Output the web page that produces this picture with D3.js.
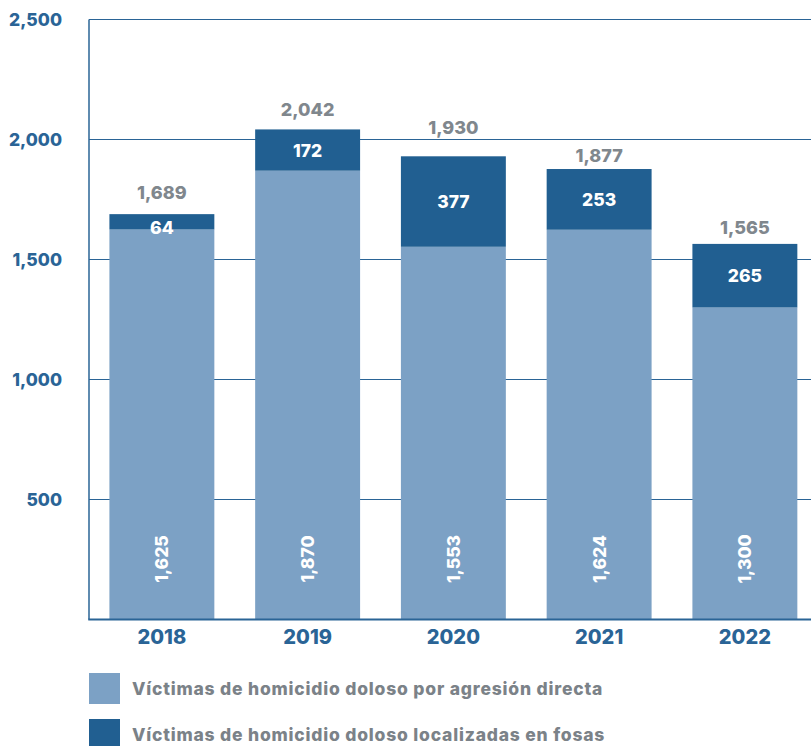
<!DOCTYPE html>
<html>
<head>
<meta charset="utf-8">
<script src="https://cdn.jsdelivr.net/npm/d3@7"></script>
<style>
  html, body { margin: 0; padding: 0; background: #ffffff; }
  svg { display: block; }
  text { font-family: Inter, "Open Sans", sans-serif; font-weight: 800; }
</style>
</head>
<body>
<svg id="chart" width="811" height="746"></svg>
<script>
// Víctimas de homicidio doloso, 2018–2022
const years = ["2018", "2019", "2020", "2021", "2022"];
const directa = [1625, 1870, 1553, 1624, 1300];   // por agresión directa
const fosas = [64, 172, 377, 253, 265];            // localizadas en fosas
const yTicks = [500, 1000, 1500, 2000, 2500];
const seriesNames = [
  "Víctimas de homicidio doloso por agresión directa",
  "Víctimas de homicidio doloso localizadas en fosas"
];

const colors = { directa: "#7ca1c5", fosas: "#215f91", axis: "#2a6496", total: "#80878d", legend: "#7b8288" };
// gap (px) between each bar top and its total label
const totalGap = [15, 13, 22, 7, 10];

const svg = d3.select("#chart");
const fmt = d3.format(",");

const rows = years.map((yr, i) => ({ year: yr, directa: directa[i], fosas: fosas[i] }));
const stacked = d3.stack().keys(["directa", "fosas"])(rows);

const x = d3.scaleBand().domain(years).range([89, 817.75]).paddingInner(0.28).paddingOuter(0.14);
const y = d3.scaleLinear().domain([0, 2500]).range([619.5, 19.5]);

// gridlines
svg.append("g").selectAll("line").data(yTicks).join("line")
  .attr("x1", 89).attr("x2", 811)
  .attr("y1", d => y(d)).attr("y2", d => y(d))
  .attr("stroke", colors.axis).attr("stroke-width", 1.2);

// y tick labels
svg.append("g").selectAll("text").data(yTicks).join("text")
  .attr("x", 62).attr("y", d => y(d) + 6.5)
  .attr("text-anchor", "end")
  .attr("font-size", 17.5).attr("fill", colors.axis)
  .text(d => fmt(d));

// stacked bars
svg.append("g").selectAll("g").data(stacked).join("g")
  .attr("fill", s => colors[s.key])
  .selectAll("rect").data(s => s).join("rect")
  .attr("x", d => x(d.data.year))
  .attr("width", x.bandwidth())
  .attr("y", d => y(d[1]))
  .attr("height", d => y(d[0]) - y(d[1]));

// axes lines
svg.append("line").attr("x1", 89).attr("x2", 89).attr("y1", y(2500)).attr("y2", y(0))
  .attr("stroke", colors.axis).attr("stroke-width", 1.5);
svg.append("line").attr("x1", 88.25).attr("x2", 811).attr("y1", y(0)).attr("y2", y(0))
  .attr("stroke", colors.axis).attr("stroke-width", 2);

// year labels
svg.append("g").selectAll("text").data(years).join("text")
  .attr("x", d => x(d) + x.bandwidth() / 2).attr("y", 644)
  .attr("text-anchor", "middle").attr("font-size", 20).attr("fill", colors.axis)
  .text(d => d);

// rotated labels inside the lower segment
svg.append("g").selectAll("text").data(stacked[0]).join("text")
  .attr("transform", d => `translate(${x(d.data.year) + x.bandwidth() / 2 + 6.5},559) rotate(-90)`)
  .attr("text-anchor", "middle").attr("font-size", 17.5).attr("fill", "#ffffff")
  .text(d => fmt(d[1] - d[0]));

// labels inside the upper segment
svg.append("g").selectAll("text").data(stacked[1]).join("text")
  .attr("x", d => x(d.data.year) + x.bandwidth() / 2)
  .attr("y", d => Math.max((y(d[0]) + y(d[1])) / 2, y(d[1]) + 13) + 6.5)
  .attr("text-anchor", "middle").attr("font-size", 17.5).attr("fill", "#ffffff")
  .text(d => fmt(d[1] - d[0]));

// totals above bars
svg.append("g").selectAll("text").data(stacked[1]).join("text")
  .attr("x", d => x(d.data.year) + x.bandwidth() / 2)
  .attr("y", (d, i) => y(d[1]) - totalGap[i])
  .attr("text-anchor", "middle").attr("font-size", 18).attr("fill", colors.total)
  .text(d => fmt(d[1]));

// legend
const legend = svg.append("g").selectAll("g").data(seriesNames).join("g")
  .attr("transform", (d, i) => `translate(89,${673 + i * 46})`);
legend.append("rect").attr("width", 31).attr("height", 31)
  .attr("fill", (d, i) => i === 0 ? colors.directa : colors.fosas);
legend.append("text").attr("x", 43).attr("y", 22)
  .attr("font-size", 17.5).attr("letter-spacing", 0.8).attr("fill", colors.legend)
  .text(d => d);
</script>
</body>
</html>
